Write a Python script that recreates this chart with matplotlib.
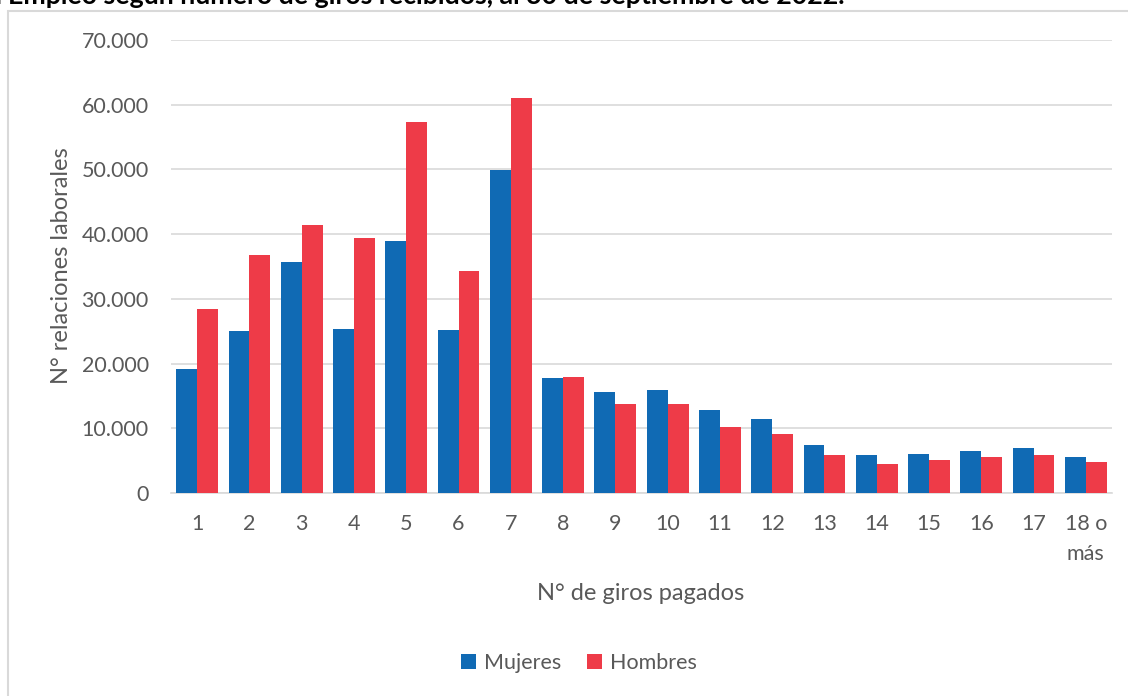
import matplotlib.pyplot as plt
import numpy as np
from matplotlib.patches import Rectangle
from matplotlib.ticker import FuncFormatter

# data
categorias = ['1', '2', '3', '4', '5', '6', '7', '8', '9', '10', '11', '12',
              '13', '14', '15', '16', '17', '18 o\nmás']
mujeres = [19200, 25000, 35700, 25400, 38950, 25200, 49850, 17800, 15650,
           15900, 12900, 11500, 7400, 5900, 6050, 6550, 6950, 5550]
hombres = [28400, 36700, 41450, 39350, 57350, 34250, 61050, 17900, 13800,
           13700, 10250, 9100, 5850, 4550, 5150, 5500, 5850, 4750]

AZUL = '#106AB4'
ROJO = '#EE3B48'
GRIS = '#595959'
LINEA = '#D9D9D9'

plt.rcParams['font.family'] = ['Lato', 'DejaVu Sans']

W, H = 1128, 696
fig = plt.figure(figsize=(W / 100, H / 100), dpi=100)
ax = fig.add_axes([171 / W, 1 - 493 / H, (1112 - 171) / W, (493 - 40) / H])

x = np.arange(len(categorias))
ancho = 0.4
ax.bar(x - ancho / 2, mujeres, ancho, color=AZUL, label='Mujeres', zorder=3)
ax.bar(x + ancho / 2, hombres, ancho, color=ROJO, label='Hombres', zorder=3)

ax.set_xlim(-0.5, len(categorias) - 0.5)
ax.set_ylim(0, 70000)
ax.set_yticks(np.arange(0, 70001, 10000))
ax.yaxis.set_major_formatter(FuncFormatter(lambda v, p: f'{int(v):,}'.replace(',', '.')))
ax.set_xticks(x)
ax.set_xticklabels(categorias, linespacing=1.65)

ax.grid(axis='y', color=LINEA, linewidth=1.2, zorder=0)
for s in ['top', 'right', 'left']:
    ax.spines[s].set_visible(False)
ax.spines['bottom'].set_color(LINEA)
ax.spines['bottom'].set_linewidth(1.2)
ax.tick_params(axis='both', length=0, labelsize=15.5, labelcolor=GRIS)
ax.tick_params(axis='y', pad=16)
ax.tick_params(axis='x', pad=15)

fig.text(62 / W, 1 - 266 / H, 'N° relaciones laborales', fontsize=17, color=GRIS,
         rotation=90, ha='center', va='center')
fig.text(641 / W, 1 - 593 / H, 'N° de giros pagados', fontsize=17, color=GRIS,
         ha='center', va='center')

fig.legend(loc='center', bbox_to_anchor=(579 / W, 1 - 663 / H), ncol=2, frameon=False,
           fontsize=15.5, labelcolor=GRIS, handlelength=0.7, handleheight=0.7,
           handletextpad=0.35, columnspacing=1.2)

# chart-area border (only top and left visible in the reference)
fig.add_artist(Rectangle((8 / W, -0.1), 1.2, 1 - 11 / H + 0.1, transform=fig.transFigure,
                         fill=False, edgecolor=LINEA, linewidth=1.5))

# title, cut off at the top edge as in the reference
fig.text(8 / W, 1 - 4 / H, 'del ', fontsize=19.3, fontweight='bold', color='black',
         ha='right', va='baseline')
fig.text(8 / W, 1 - 4 / H,
         'Empleo según número de giros recibidos, al 30 de septiembre de 2022.',
         fontsize=19.3, fontweight='bold', color='black', ha='left', va='baseline')

fig.savefig('out.png', dpi=100, facecolor='white')
